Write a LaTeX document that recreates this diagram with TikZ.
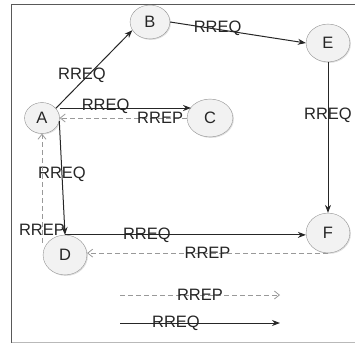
\documentclass[tikz,border=0pt]{standalone}
\usepackage{fontspec}
\setmainfont{Liberation Sans}
\usepackage{tikz}
\usetikzlibrary{arrows.meta,positioning,shapes.geometric,calc,shadows}

\begin{document}
\begin{tikzpicture}[x=1bp, y=-1bp, font=\fontsize{16.5bp}{19bp}\selectfont]
        \tikzstyle{station} = [ellipse, draw = gray!85, fill = gray!10, inner sep = 0, text = black!85,
            drop shadow = {opacity = 0.25, shadow xshift = 1bp, shadow yshift = -1bp}]
        \tikzstyle{req} = [draw = black!85, line width = 1bp, -{Stealth[length = 8bp, width = 6bp]}]
        \tikzstyle{rep} = [draw = gray!80, line width = 0.8bp, dash pattern = on 5bp off 3bp, -{Straight Barb[length = 5bp, width = 8bp]}]
        \tikzstyle{msg} = [inner sep = 0, text = black!85]
        \useasboundingbox (0,0) rectangle (355,343);
        % frame
        \draw [black!65, line width = 1bp] (11.5,343) -- (11.5,4) -- (360,4);
        \draw [gray!55, line width = 1bp] (11.5,342) -- (360,342);
        % stations
        \node at (42,118) (A) [station, minimum width = 35, minimum height = 31] {A};
        \node at (150,22) (B) [station, minimum width = 40, minimum height = 34] {B};
        \node at (210,118) (C) [station, minimum width = 46, minimum height = 38] {C};
        \node at (328,43) (E) [station, minimum width = 44, minimum height = 38] {E};
        \node at (328,233) (F) [station, minimum width = 44, minimum height = 40] {F};
        \node at (65,255) (D) [station, minimum width = 44, minimum height = 40] {D};
        % route requests
        \draw [req] (A.35) -- node [msg, pos = 0.42, xshift = -6bp] {RREQ} (B.205);
        \draw [req] (B.east) -- node [msg, pos = 0.35, yshift = 1bp] {RREQ} (E.west);
        \draw [req] (E.south) -- node [msg, pos = 0.35] {RREQ} (F.north);
        \draw [req] ($(A.east)+(0,-10)$) coordinate (a1) -- node [msg, pos = 0.35, yshift = 2bp] {RREQ} (a1 -| C.150);
        \draw [req] (A.-10) -- node [msg, pos = 0.47] {RREQ} (D.north);
        \draw [req] (D.north) -- node [msg, pos = 0.34] {RREQ} (D.north -| F.west);
        % route replies
        \draw [rep] (C.west) -- node [msg, pos = 0.21] {RREP} (A.east);
        \draw [rep] (F.south) -- node [msg, pos = 0.5] {RREP} (F.south -| D.east);
        \draw [rep] ($(A.south |- D.north)+(0,8)$) -- node [msg, pos = 0.12] {RREP} (A.south);
        % legend
        \coordinate (rep1) at (120,295);
        \coordinate (rep2) at (280,295);
        \coordinate (req1) at (120,323);
        \coordinate (req2) at (280,323);
        \draw [rep] (rep1) -- node [msg, pos = 0.5] {RREP} (rep2);
        \draw [req] (req1) -- node [msg, pos = 0.35] {RREQ} (req2);
    \end{tikzpicture}
\end{document}
